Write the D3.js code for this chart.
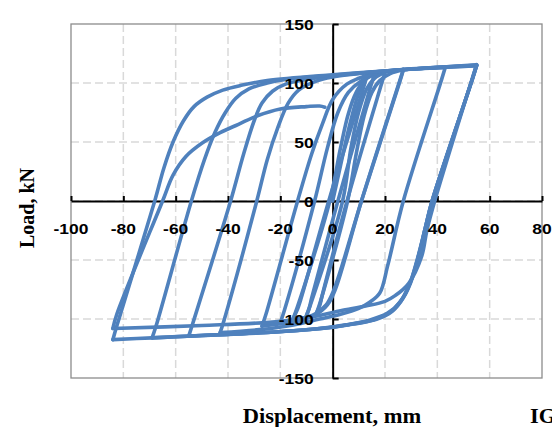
<!DOCTYPE html>
<html>
<head>
<meta charset="utf-8">
<script src="https://cdn.jsdelivr.net/npm/d3@7"></script>
<style>
  body { margin: 0; background: #fff; }
  svg { display: block; }
</style>
</head>
<body>
<div id="chart"></div>
<script>
// Axis ticks
var xTicks = [-100, -80, -60, -40, -20, 0, 20, 40, 60, 80];
var yTicks = [-150, -100, -50, 0, 50, 100, 150];

// Hysteresis branches [displacement mm, load kN], in loading order
var b0  = [[0,0],[3,30],[6,60],[9,85],[11,97],[13,105]];
var u1  = [[13,105],[11.5,94],[-1.5,0],[-12,-82],[-13.5,-92],[-15,-99]];
var r1  = [[-15,-99],[-13.5,-90],[-1.1,0],[3,45],[6,74],[9,92],[12,102],[16,107.5]];
var u2  = [[16,107.5],[14.5,97],[2,0],[-8,-82],[-9,-91],[-10,-97]];
var r2  = [[-10,-97],[-8.5,-88],[3.8,0],[7,45],[10,76],[13,95],[16,104],[20,109]];
var u3  = [[20,109],[18.5,98],[5.5,0],[-4,-80],[-5,-89],[-6,-94]];
var r3  = [[-6,-94],[-4.5,-84],[5.7,0],[9,40],[12,72],[15,92],[18,102],[22,108],[27,111]];
var u4  = [[27,111],[25.5,100],[11,0],[0.5,-75],[-2.5,-88],[-7,-96],[-13,-100],[-20,-103]];
var r4  = [[-20,-103],[-18.5,-93],[-6.9,0],[-2,45],[2,75],[6,92],[11,102],[17,108],[27,111.5]];
var u5  = [[27,111.5],[25.5,101],[11,0],[1,-75],[-2,-88],[-7,-97],[-14,-102],[-27,-106]];
var r5  = [[-27,-106],[-25.5,-96],[-13.4,0],[-8,40],[-3.8,66],[0,86],[5.4,99],[10,104],[14,107],[25,111],[43,113]];
var u6  = [[43,113],[41.5,102],[27,0],[21,-55],[18,-78],[14,-86],[10,-91],[3,-96],[-5,-100],[-15,-105],[-28,-109],[-43,-111.5]];
var r6  = [[-43,-111.5],[-41.5,-101],[-29,0],[-25,35],[-21,62],[-17,83],[-13,94],[-7,101],[0,105],[15,109],[35,112.5],[55,114.5]];
var u7  = [[55,114.5],[53.5,104],[38,0],[35.5,-22],[33,-45],[30,-68],[27,-82],[23,-93],[17,-100],[8,-104],[0,-107],[-22,-111],[-40,-113],[-55,-114.5]];
var r7  = [[-55,-114.5],[-53.5,-104],[-39,0],[-34,40],[-30,68],[-27,83],[-23,93],[-18,99],[-10,103],[0,106],[25,111],[55,115]];
var u8  = [[55,115],[53.5,104],[38,0],[35.5,-22],[32.5,-48],[29.5,-70],[26,-85],[21,-95],[14,-101],[5,-105],[-5,-108],[-25,-111.5],[-50,-114],[-69,-116]];
var r8  = [[-69,-116],[-67.5,-106],[-54,0],[-49,35],[-45,58],[-41,75],[-37,87],[-32,95],[-25,100],[-18,103],[0,106.5],[25,111],[55,115]];
var u9  = [[55,115],[53.5,104],[38,0],[35.5,-22],[33,-45],[30,-67],[26.5,-83],[22,-94],[15,-101],[6,-105],[0,-107],[-22,-111],[-50,-114],[-69,-116],[-84,-117.5]];
var r9  = [[-84,-117.5],[-82.5,-106],[-68,0],[-64.5,28],[-61,50],[-57,68],[-53,80],[-48,88],[-42,94],[-35,98],[-25,102],[0,107],[25,111],[55,115.5]];
var u10 = [[55,115.5],[53.5,105],[39,0],[36,-25],[34,-47],[29,-70],[24,-80],[20,-85],[12.6,-89],[3,-93],[-5,-97],[-20,-102],[-50,-105.5],[-84,-108]];
var r10 = [[-84,-108],[-82.5,-96],[-65,0],[-61,22],[-56,38],[-50,49],[-43,58],[-36,65],[-29,72],[-20,78],[-10,80],[-5,80.5],[-3,79.5]];

var branches = [b0, u1, r1, u2, r2, u3, r3, u4, r4, u5, r5, u6, r6, u7, r7, u8, r8, u9, r9, u10, r10];

// Canvas and plot area
var W = 552, H = 427;
var plot = {left: 71, right: 542, top: 24, bottom: 378};
var stretch = 1.125; // source picture is a little wider than tall

var svg = d3.select("#chart").append("svg")
    .attr("width", W)
    .attr("height", H);

var x = d3.scaleLinear().domain([-100, 80]).range([plot.left, plot.right]);
var y = d3.scaleLinear().domain([-150, 150]).range([plot.bottom, plot.top]);

// Dashed gridlines
svg.selectAll("line.vgrid").data(xTicks.filter(function(d) { return d > -100 && d < 80; })).enter()
  .append("line")
    .attr("class", "vgrid")
    .attr("x1", function(d) { return x(d); })
    .attr("x2", function(d) { return x(d); })
    .attr("y1", plot.top)
    .attr("y2", plot.bottom)
    .attr("stroke", "#d9d9d9")
    .attr("stroke-width", 1.5)
    .attr("stroke-dasharray", "8,4");

svg.selectAll("line.hgrid").data(yTicks.filter(function(d) { return d > -150 && d < 150; })).enter()
  .append("line")
    .attr("class", "hgrid")
    .attr("x1", plot.left)
    .attr("x2", plot.right)
    .attr("y1", function(d) { return y(d); })
    .attr("y2", function(d) { return y(d); })
    .attr("stroke", "#d9d9d9")
    .attr("stroke-width", 1.5)
    .attr("stroke-dasharray", "8,4");

// Plot border
svg.append("rect")
    .attr("x", plot.left)
    .attr("y", plot.top)
    .attr("width", plot.right - plot.left)
    .attr("height", plot.bottom - plot.top)
    .attr("fill", "none")
    .attr("stroke", "#8c8c8c")
    .attr("stroke-width", 1.3);

// Axes crossing at the origin, ticks pointing inwards
var xAxis = svg.append("g")
    .attr("transform", "translate(0," + y(0) + ")")
    .call(d3.axisTop(x).tickValues(xTicks).tickSize(5).tickSizeOuter(0).tickFormat(""));

var yAxis = svg.append("g")
    .attr("transform", "translate(" + x(0) + ",0)")
    .call(d3.axisRight(y).tickValues(yTicks).tickSize(6).tickSizeOuter(0).tickFormat(""));

[xAxis, yAxis].forEach(function(g) {
  g.selectAll("path, line").attr("stroke", "#000").attr("stroke-width", 2);
});

// Hysteresis curves
var line = d3.line()
    .x(function(d) { return x(d[0]); })
    .y(function(d) { return y(d[1]); })
    .curve(d3.curveCatmullRom.alpha(0.5));

svg.append("g").selectAll("path.loop").data(branches).enter()
  .append("path")
    .attr("class", "loop")
    .attr("d", line)
    .attr("fill", "none")
    .attr("stroke", "#4f81bd")
    .attr("stroke-width", 3.6)
    .attr("stroke-linecap", "round")
    .attr("stroke-linejoin", "round");

// Tick labels
svg.selectAll("text.xlab").data(xTicks).enter()
  .append("text")
    .attr("class", "xlab")
    .attr("transform", function(d) { return "translate(" + x(d) + "," + (y(0) + 33) + ") scale(" + stretch + ",1)"; })
    .attr("text-anchor", "middle")
    .style("font-family", "'Liberation Sans', Arial, sans-serif")
    .style("font-weight", "bold")
    .style("font-size", "15.5px")
    .text(function(d) { return d; });

svg.selectAll("text.ylab").data(yTicks).enter()
  .append("text")
    .attr("class", "ylab")
    .attr("transform", function(d) { return "translate(" + (x(0) - 19) + "," + (y(d) + 5.5) + ") scale(" + stretch + ",1)"; })
    .attr("text-anchor", "end")
    .style("font-family", "'Liberation Sans', Arial, sans-serif")
    .style("font-weight", "bold")
    .style("font-size", "15.5px")
    .text(function(d) { return d; });

// Axis titles
svg.append("text")
    .attr("transform", "translate(34,208) rotate(-90)")
    .attr("text-anchor", "middle")
    .style("font-family", "'Liberation Serif', 'Times New Roman', serif")
    .style("font-weight", "bold")
    .style("font-size", "20px")
    .text("Load, kN");

svg.append("text")
    .attr("transform", "translate(332,423) scale(" + stretch + ",1)")
    .attr("text-anchor", "middle")
    .style("font-family", "'Liberation Serif', 'Times New Roman', serif")
    .style("font-weight", "bold")
    .style("font-size", "20px")
    .text("Displacement, mm");

// Start of a caption that runs off the right edge in the source
svg.append("text")
    .attr("transform", "translate(530,423) scale(" + stretch + ",1)")
    .style("font-family", "'Liberation Serif', 'Times New Roman', serif")
    .style("font-weight", "bold")
    .style("font-size", "20px")
    .text("IG");
</script>
</body>
</html>
